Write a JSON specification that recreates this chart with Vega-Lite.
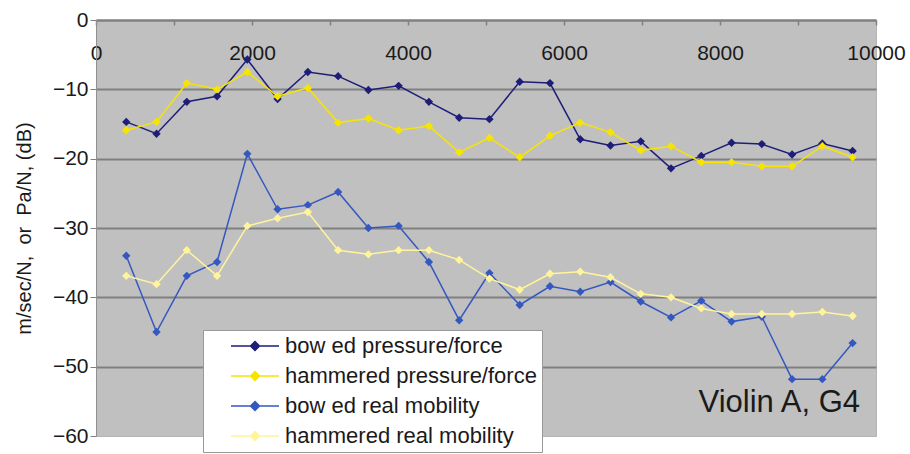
{
  "$schema": "https://vega.github.io/schema/vega-lite/v6.json",
  "width": 780,
  "height": 416,
  "autosize": {"type": "none"},
  "padding": {"left": 96, "top": 20, "right": 34, "bottom": 18},
  "background": "white",
  "config": {
    "view": {"fill": "#c0c0c0", "stroke": "#b4b4b4", "strokeWidth": 1},
    "font": "Liberation Sans"
  },
  "datasets": {
    "series": [
      {"freq": 388, "dB": -14.7, "series": "bow ed pressure/force"},
      {"freq": 776, "dB": -16.4, "series": "bow ed pressure/force"},
      {"freq": 1164, "dB": -11.8, "series": "bow ed pressure/force"},
      {"freq": 1552, "dB": -11.0, "series": "bow ed pressure/force"},
      {"freq": 1940, "dB": -5.7, "series": "bow ed pressure/force"},
      {"freq": 2328, "dB": -11.4, "series": "bow ed pressure/force"},
      {"freq": 2716, "dB": -7.5, "series": "bow ed pressure/force"},
      {"freq": 3104, "dB": -8.1, "series": "bow ed pressure/force"},
      {"freq": 3492, "dB": -10.1, "series": "bow ed pressure/force"},
      {"freq": 3880, "dB": -9.5, "series": "bow ed pressure/force"},
      {"freq": 4268, "dB": -11.8, "series": "bow ed pressure/force"},
      {"freq": 4656, "dB": -14.1, "series": "bow ed pressure/force"},
      {"freq": 5044, "dB": -14.3, "series": "bow ed pressure/force"},
      {"freq": 5432, "dB": -8.9, "series": "bow ed pressure/force"},
      {"freq": 5820, "dB": -9.1, "series": "bow ed pressure/force"},
      {"freq": 6208, "dB": -17.2, "series": "bow ed pressure/force"},
      {"freq": 6596, "dB": -18.1, "series": "bow ed pressure/force"},
      {"freq": 6984, "dB": -17.5, "series": "bow ed pressure/force"},
      {"freq": 7372, "dB": -21.4, "series": "bow ed pressure/force"},
      {"freq": 7760, "dB": -19.6, "series": "bow ed pressure/force"},
      {"freq": 8148, "dB": -17.7, "series": "bow ed pressure/force"},
      {"freq": 8536, "dB": -17.9, "series": "bow ed pressure/force"},
      {"freq": 8924, "dB": -19.4, "series": "bow ed pressure/force"},
      {"freq": 9312, "dB": -17.8, "series": "bow ed pressure/force"},
      {"freq": 9700, "dB": -18.9, "series": "bow ed pressure/force"},

      {"freq": 388, "dB": -15.9, "series": "hammered pressure/force"},
      {"freq": 776, "dB": -14.7, "series": "hammered pressure/force"},
      {"freq": 1164, "dB": -9.1, "series": "hammered pressure/force"},
      {"freq": 1552, "dB": -10.0, "series": "hammered pressure/force"},
      {"freq": 1940, "dB": -7.5, "series": "hammered pressure/force"},
      {"freq": 2328, "dB": -11.0, "series": "hammered pressure/force"},
      {"freq": 2716, "dB": -9.8, "series": "hammered pressure/force"},
      {"freq": 3104, "dB": -14.8, "series": "hammered pressure/force"},
      {"freq": 3492, "dB": -14.2, "series": "hammered pressure/force"},
      {"freq": 3880, "dB": -15.9, "series": "hammered pressure/force"},
      {"freq": 4268, "dB": -15.3, "series": "hammered pressure/force"},
      {"freq": 4656, "dB": -19.1, "series": "hammered pressure/force"},
      {"freq": 5044, "dB": -17.0, "series": "hammered pressure/force"},
      {"freq": 5432, "dB": -19.8, "series": "hammered pressure/force"},
      {"freq": 5820, "dB": -16.7, "series": "hammered pressure/force"},
      {"freq": 6208, "dB": -14.8, "series": "hammered pressure/force"},
      {"freq": 6596, "dB": -16.2, "series": "hammered pressure/force"},
      {"freq": 6984, "dB": -18.8, "series": "hammered pressure/force"},
      {"freq": 7372, "dB": -18.2, "series": "hammered pressure/force"},
      {"freq": 7760, "dB": -20.5, "series": "hammered pressure/force"},
      {"freq": 8148, "dB": -20.5, "series": "hammered pressure/force"},
      {"freq": 8536, "dB": -21.1, "series": "hammered pressure/force"},
      {"freq": 8924, "dB": -21.1, "series": "hammered pressure/force"},
      {"freq": 9312, "dB": -18.2, "series": "hammered pressure/force"},
      {"freq": 9700, "dB": -19.8, "series": "hammered pressure/force"},

      {"freq": 388, "dB": -34.0, "series": "bow ed real mobility"},
      {"freq": 776, "dB": -45.0, "series": "bow ed real mobility"},
      {"freq": 1164, "dB": -36.9, "series": "bow ed real mobility"},
      {"freq": 1552, "dB": -34.9, "series": "bow ed real mobility"},
      {"freq": 1940, "dB": -19.3, "series": "bow ed real mobility"},
      {"freq": 2328, "dB": -27.3, "series": "bow ed real mobility"},
      {"freq": 2716, "dB": -26.7, "series": "bow ed real mobility"},
      {"freq": 3104, "dB": -24.8, "series": "bow ed real mobility"},
      {"freq": 3492, "dB": -30.0, "series": "bow ed real mobility"},
      {"freq": 3880, "dB": -29.7, "series": "bow ed real mobility"},
      {"freq": 4268, "dB": -34.9, "series": "bow ed real mobility"},
      {"freq": 4656, "dB": -43.3, "series": "bow ed real mobility"},
      {"freq": 5044, "dB": -36.5, "series": "bow ed real mobility"},
      {"freq": 5432, "dB": -41.1, "series": "bow ed real mobility"},
      {"freq": 5820, "dB": -38.4, "series": "bow ed real mobility"},
      {"freq": 6208, "dB": -39.2, "series": "bow ed real mobility"},
      {"freq": 6596, "dB": -37.8, "series": "bow ed real mobility"},
      {"freq": 6984, "dB": -40.6, "series": "bow ed real mobility"},
      {"freq": 7372, "dB": -42.9, "series": "bow ed real mobility"},
      {"freq": 7760, "dB": -40.5, "series": "bow ed real mobility"},
      {"freq": 8148, "dB": -43.5, "series": "bow ed real mobility"},
      {"freq": 8536, "dB": -42.8, "series": "bow ed real mobility"},
      {"freq": 8924, "dB": -51.8, "series": "bow ed real mobility"},
      {"freq": 9312, "dB": -51.8, "series": "bow ed real mobility"},
      {"freq": 9700, "dB": -46.6, "series": "bow ed real mobility"},

      {"freq": 388, "dB": -36.9, "series": "hammered real mobility"},
      {"freq": 776, "dB": -38.1, "series": "hammered real mobility"},
      {"freq": 1164, "dB": -33.2, "series": "hammered real mobility"},
      {"freq": 1552, "dB": -36.9, "series": "hammered real mobility"},
      {"freq": 1940, "dB": -29.7, "series": "hammered real mobility"},
      {"freq": 2328, "dB": -28.6, "series": "hammered real mobility"},
      {"freq": 2716, "dB": -27.7, "series": "hammered real mobility"},
      {"freq": 3104, "dB": -33.2, "series": "hammered real mobility"},
      {"freq": 3492, "dB": -33.8, "series": "hammered real mobility"},
      {"freq": 3880, "dB": -33.2, "series": "hammered real mobility"},
      {"freq": 4268, "dB": -33.2, "series": "hammered real mobility"},
      {"freq": 4656, "dB": -34.6, "series": "hammered real mobility"},
      {"freq": 5044, "dB": -37.3, "series": "hammered real mobility"},
      {"freq": 5432, "dB": -38.9, "series": "hammered real mobility"},
      {"freq": 5820, "dB": -36.6, "series": "hammered real mobility"},
      {"freq": 6208, "dB": -36.3, "series": "hammered real mobility"},
      {"freq": 6596, "dB": -37.1, "series": "hammered real mobility"},
      {"freq": 6984, "dB": -39.5, "series": "hammered real mobility"},
      {"freq": 7372, "dB": -40.0, "series": "hammered real mobility"},
      {"freq": 7760, "dB": -41.6, "series": "hammered real mobility"},
      {"freq": 8148, "dB": -42.4, "series": "hammered real mobility"},
      {"freq": 8536, "dB": -42.4, "series": "hammered real mobility"},
      {"freq": 8924, "dB": -42.4, "series": "hammered real mobility"},
      {"freq": 9312, "dB": -42.1, "series": "hammered real mobility"},
      {"freq": 9700, "dB": -42.7, "series": "hammered real mobility"}
    ],
    "note": [
      {"freq": 9795, "dB": -56.5, "label": "Violin A, G4"}
    ]
  },
  "encoding": {
    "x": {
      "field": "freq",
      "type": "quantitative",
      "scale": {"domain": [0, 10000], "nice": false, "zero": false},
      "axis": {
        "orient": "bottom",
        "offset": -416,
        "values": [0, 1000, 2000, 3000, 4000, 5000, 6000, 7000, 8000, 9000, 10000],
        "format": "d",
        "labelExpr": "datum.value % 2000 === 0 ? datum.label : ''",
        "title": null,
        "grid": false,
        "domainColor": "#808080",
        "domainWidth": 2,
        "tickColor": "#808080",
        "tickSize": 5,
        "tickWidth": 1.5,
        "labelFontSize": 21,
        "labelColor": "#1a1a1a",
        "labelPadding": 17,
        "labelFlush": false,
        "labelOverlap": false
      }
    },
    "y": {
      "field": "dB",
      "type": "quantitative",
      "scale": {"domain": [-60, 0], "nice": false, "zero": false},
      "axis": {
        "values": [-60, -50, -40, -30, -20, -10, 0],
        "format": "d",
        "title": "m/sec/N,\u00a0\u00a0or\u00a0\u00a0Pa/N, (dB)",
        "titleFontSize": 20,
        "titleFontWeight": "normal",
        "titleColor": "#1a1a1a",
        "titleX": -66,
        "titleBaseline": "alphabetic",
        "grid": true,
        "gridColor": "#808080",
        "gridWidth": 2,
        "gridOpacity": {"condition": {"test": "datum.value === -60", "value": 0}, "value": 1},
        "domainColor": "#909090",
        "domainWidth": 1,
        "tickColor": "#808080",
        "tickSize": 6,
        "labelFontSize": 21,
        "labelColor": "#1a1a1a",
        "labelPadding": 2
      }
    }
  },
  "layer": [
    {
      "data": {"name": "series"},
      "mark": {
        "type": "line",
        "strokeWidth": 1.5,
        "point": {"shape": "diamond", "filled": true, "size": 70, "opacity": 1}
      },
      "encoding": {
        "color": {
          "field": "series",
          "type": "nominal",
          "scale": {
            "domain": ["bow ed pressure/force", "hammered pressure/force", "bow ed real mobility", "hammered real mobility"],
            "range": ["#1e1e78", "#f7e400", "#3558c0", "#fff49c"]
          },
          "legend": {
            "title": null,
            "orient": "none",
            "legendX": 107,
            "legendY": 310,
            "fillColor": "white",
            "strokeColor": "#999999",
            "padding": 5,
            "symbolType": "M-2.4,0H2.4M-0.45,0L0,-0.45L0.45,0L0,0.45ZM-0.35,0L0,-0.35L0.35,0L0,0.35ZM-0.25,0L0,-0.25L0.25,0L0,0.25ZM-0.15,0L0,-0.15L0.15,0L0,0.15ZM-0.05,0L0,-0.05L0.05,0L0,0.05Z",
            "symbolSize": 400,
            "symbolStrokeWidth": 1.5,
            "symbolOffset": 36,
            "labelOffset": 19,
            "labelFontSize": 22,
            "labelColor": "#1a1a1a",
            "labelFont": "Liberation Sans",
            "labelLimit": 400,
            "rowPadding": 8,
            "labelExpr": "datum.label + '\u2003'"
          }
        }
      }
    },
    {
      "data": {"name": "note"},
      "mark": {
        "type": "text",
        "align": "right",
        "baseline": "alphabetic",
        "fontSize": 31,
        "font": "Liberation Sans",
        "color": "#1a1a1a"
      },
      "encoding": {
        "text": {"field": "label"}
      }
    }
  ]
}
